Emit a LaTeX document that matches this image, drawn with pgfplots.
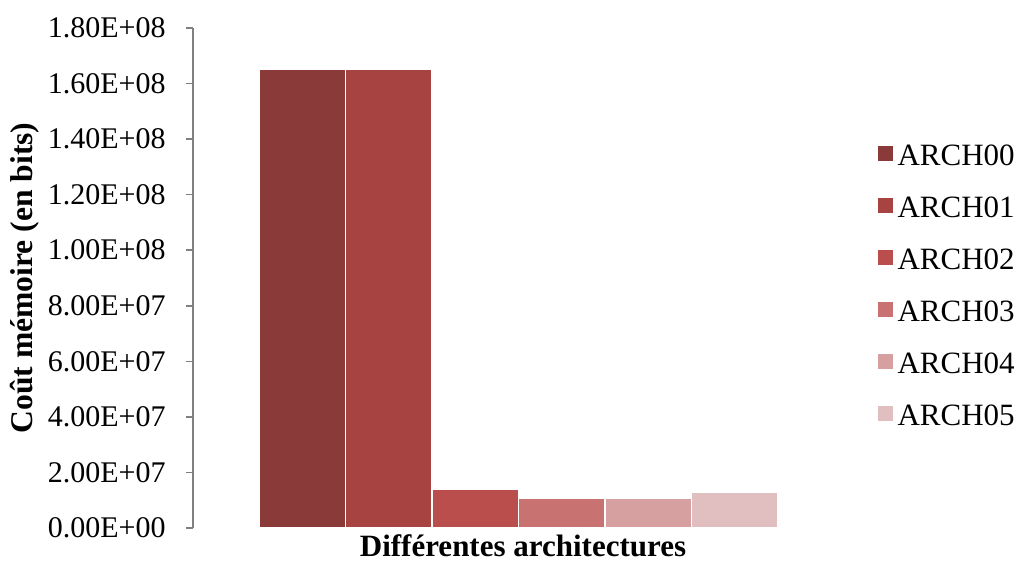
\documentclass[border=0pt]{standalone}
\usepackage{fontspec}
\setmainfont{Liberation Serif}
\usepackage{pgfplots}
\pgfplotsset{compat=1.18}
\definecolor{c0}{RGB}{139,58,58}
\definecolor{c1}{RGB}{167,68,66}
\definecolor{c2}{RGB}{185,78,76}
\definecolor{c3}{RGB}{200,115,114}
\definecolor{c4}{RGB}{215,160,160}
\definecolor{c5}{RGB}{225,191,192}
\begin{document}
\begin{tikzpicture}
\useasboundingbox (-96.5pt,-17.5pt) rectangle (412.5pt,264pt);
\begin{axis}[
  at={(0,0)}, anchor=south west,
  scale only axis, width=325.5pt, height=250pt,
  xmin=-1.263, xmax=6.263, ymin=0, ymax=1.8e8,
  axis x line=none, axis y line*=left,
  axis line style={gray, line width=0.8pt},
  y axis line style={-},
  ytick={0,2e7,4e7,6e7,8e7,1e8,1.2e8,1.4e8,1.6e8,1.8e8},
  yticklabels={0.00E+00,2.00E+07,4.00E+07,6.00E+07,8.00E+07,1.00E+08,1.20E+08,1.40E+08,1.60E+08,1.80E+08},
  scaled y ticks=false,
  tick align=outside, major tick length=3.5pt,
  ytick style={gray, line width=0.8pt},
  yticklabel style={font=\fontsize{15}{18}\selectfont, inner sep=0pt, xshift=-10pt},
  legend style={draw=none, at={(axis description cs:1.051,0.78)}, anchor=north west,
    font=\fontsize{15.5}{18}\selectfont, row sep=10pt, inner sep=0pt,
    nodes={inner sep=2.5pt, text height=11pt, text depth=0pt}},
  legend cell align=left,
  legend image code/.code={\fill[#1, draw=none] (-1pt,-3.2pt) rectangle (6.5pt,4.3pt);},
]
\addplot[ybar, bar shift=0pt, bar width=1, fill=c0, draw=white, line width=0.8pt] coordinates {(0,1.65e8)};
\addplot[ybar, bar shift=0pt, bar width=1, fill=c1, draw=white, line width=0.8pt] coordinates {(1,1.65e8)};
\addplot[ybar, bar shift=0pt, bar width=1, fill=c2, draw=white, line width=0.8pt] coordinates {(2,1.40e7)};
\addplot[ybar, bar shift=0pt, bar width=1, fill=c3, draw=white, line width=0.8pt] coordinates {(3,1.09e7)};
\addplot[ybar, bar shift=0pt, bar width=1, fill=c4, draw=white, line width=0.8pt] coordinates {(4,1.09e7)};
\addplot[ybar, bar shift=0pt, bar width=1, fill=c5, draw=white, line width=0.8pt] coordinates {(5,1.28e7)};
\legend{ARCH00,ARCH01,ARCH02,ARCH03,ARCH04,ARCH05}
\end{axis}
\node[rotate=90, font=\fontsize{15.8}{18}\selectfont\bfseries] at (-84pt,125pt) {Coût mémoire (en bits)};
\node[font=\fontsize{15.5}{18}\selectfont\bfseries] at (165pt,-9pt) {Différentes architectures};
\end{tikzpicture}
\end{document}
